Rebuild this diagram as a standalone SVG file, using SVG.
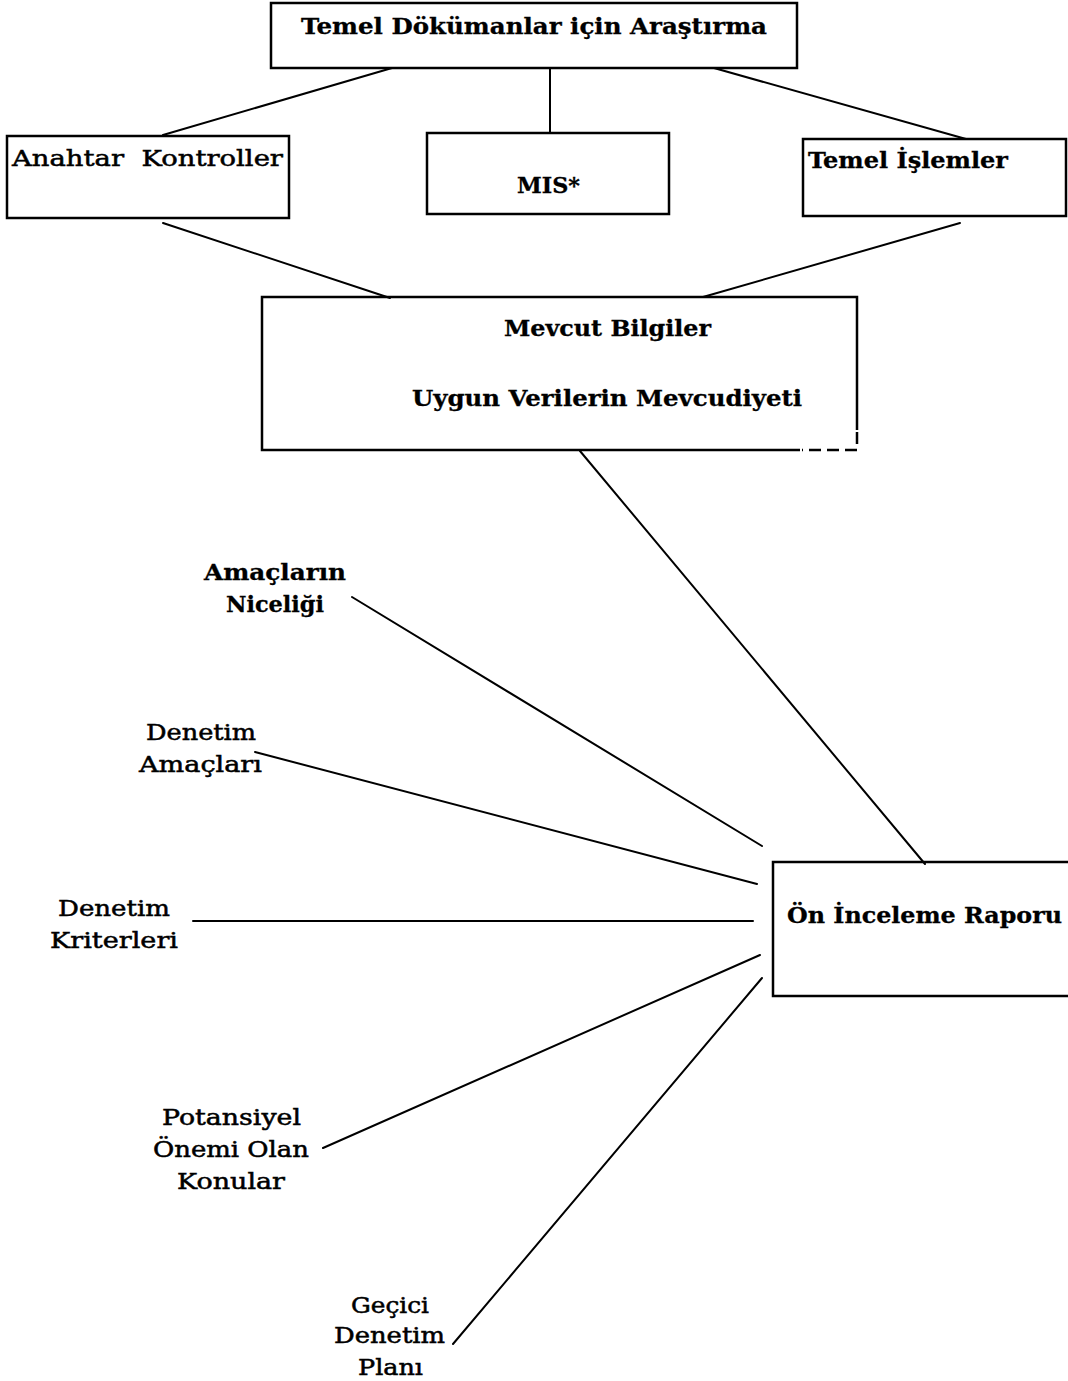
<svg xmlns="http://www.w3.org/2000/svg" width="1068" height="1381" viewBox="0 0 1068 1381">
  <style>
    .box { fill: none; stroke: #000; stroke-width: 2.5; }
    .dash { fill: none; stroke: #000; stroke-width: 2.5; stroke-dasharray: 12 6; }
    .edge { fill: none; stroke: #000; stroke-width: 2; stroke-linecap: round; }
    .t { font-family: "DejaVu Serif", "Liberation Serif", serif; font-size: 22px; fill: #000; stroke: #000; stroke-width: 0.5; }
    .b { font-weight: bold; stroke-width: 0.3; }
  </style>
  <rect width="1068" height="1381" fill="#fff"/>

  <!-- connectors -->
  <g id="connectors">
    <line class="edge" x1="392" y1="68" x2="163" y2="135"/>
    <line class="edge" x1="550" y1="68" x2="550" y2="133"/>
    <line class="edge" x1="714" y1="68" x2="966" y2="139"/>
    <line class="edge" x1="163" y1="223" x2="390" y2="298"/>
    <line class="edge" x1="960" y1="223" x2="703" y2="297"/>
    <line class="edge" x1="580" y1="451" x2="925" y2="864"/>
    <line class="edge" x1="352" y1="597" x2="762" y2="846"/>
    <line class="edge" x1="255" y1="752" x2="757" y2="884"/>
    <line class="edge" x1="193" y1="921" x2="753" y2="921"/>
    <line class="edge" x1="323" y1="1148" x2="760" y2="955"/>
    <line class="edge" x1="453" y1="1344" x2="762" y2="978"/>
  </g>

  <g id="node-temel-dokumanlar">
    <rect class="box" x="271" y="3" width="526" height="65"/>
    <text class="t b" x="301" y="34" textLength="466" lengthAdjust="spacingAndGlyphs">Temel Dökümanlar için Araştırma</text>
  </g>

  <g id="node-anahtar-kontroller">
    <rect class="box" x="7" y="136" width="282" height="82"/>
    <text class="t" x="12" y="166" textLength="271" lengthAdjust="spacingAndGlyphs" xml:space="preserve">Anahtar  Kontroller</text>
  </g>

  <g id="node-mis">
    <rect class="box" x="427" y="133" width="242" height="81"/>
    <text class="t b" x="517" y="193" textLength="63" lengthAdjust="spacingAndGlyphs">MIS*</text>
  </g>

  <g id="node-temel-islemler">
    <rect class="box" x="803" y="139" width="263" height="77"/>
    <text class="t b" x="808" y="168" textLength="200" lengthAdjust="spacingAndGlyphs">Temel İşlemler</text>
  </g>

  <g id="node-mevcut-bilgiler">
    <path class="box" d="M800 450 H262 V297 H857 V430"/>
    <path class="dash" d="M857 432 V450 H802"/>
    <text class="t b" x="504" y="336" textLength="207" lengthAdjust="spacingAndGlyphs">Mevcut Bilgiler</text>
    <text class="t b" x="412" y="406" textLength="390" lengthAdjust="spacingAndGlyphs">Uygun Verilerin Mevcudiyeti</text>
  </g>

  <g id="node-on-inceleme">
    <path class="box" d="M1070 862 H773 V996 H1070"/>
    <text class="t b" x="787" y="923" textLength="275" lengthAdjust="spacingAndGlyphs">Ön İnceleme Raporu</text>
  </g>

  <g id="node-amaclarin-niceligi">
    <text class="t b" x="204" y="580" textLength="142" lengthAdjust="spacingAndGlyphs">Amaçların</text>
    <text class="t b" x="226" y="612" textLength="98" lengthAdjust="spacingAndGlyphs">Niceliği</text>
  </g>

  <g id="node-denetim-amaclari">
    <text class="t" x="146" y="740" textLength="110" lengthAdjust="spacingAndGlyphs">Denetim</text>
    <text class="t" x="139" y="772" textLength="123" lengthAdjust="spacingAndGlyphs">Amaçları</text>
  </g>

  <g id="node-denetim-kriterleri">
    <text class="t" x="58" y="916" textLength="112" lengthAdjust="spacingAndGlyphs">Denetim</text>
    <text class="t" x="50" y="948" textLength="128" lengthAdjust="spacingAndGlyphs">Kriterleri</text>
  </g>

  <g id="node-potansiyel">
    <text class="t" x="162" y="1125" textLength="139" lengthAdjust="spacingAndGlyphs">Potansiyel</text>
    <text class="t" x="153" y="1157" textLength="156" lengthAdjust="spacingAndGlyphs">Önemi Olan</text>
    <text class="t" x="177" y="1189" textLength="108" lengthAdjust="spacingAndGlyphs">Konular</text>
  </g>

  <g id="node-gecici-plan">
    <text class="t" x="351" y="1313" textLength="78" lengthAdjust="spacingAndGlyphs">Geçici</text>
    <text class="t" x="334" y="1343" textLength="111" lengthAdjust="spacingAndGlyphs">Denetim</text>
    <text class="t" x="358" y="1375" textLength="65" lengthAdjust="spacingAndGlyphs">Planı</text>
  </g>
</svg>
